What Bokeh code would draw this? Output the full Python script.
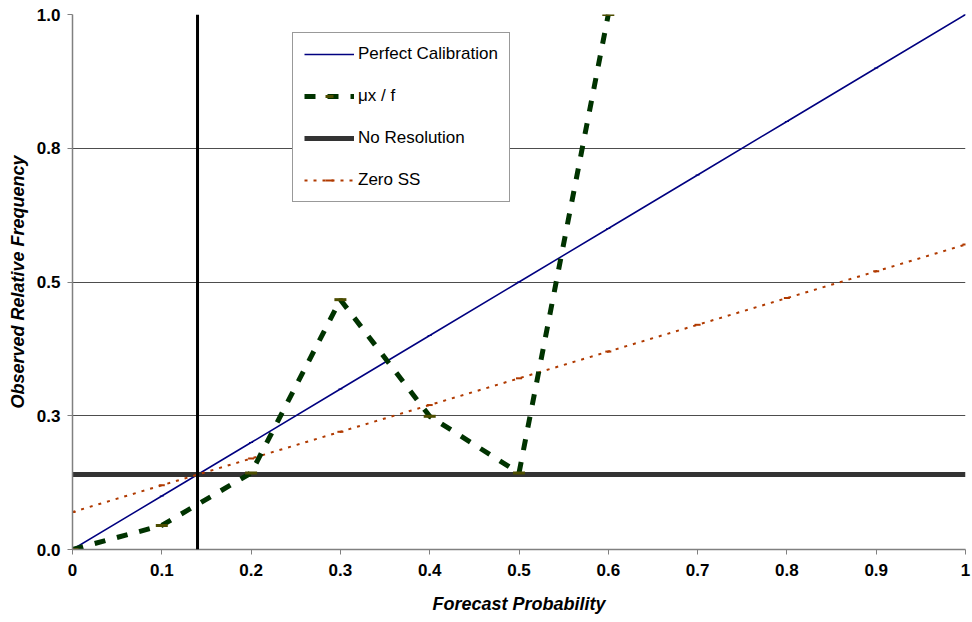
from bokeh.plotting import figure
from bokeh.models import (Legend, LegendItem, FixedTicker, Range1d, Span)
from bokeh.embed import file_html
from bokeh.resources import INLINE

# Forecast probability bins
forecast = [0.0, 0.1, 0.2, 0.3, 0.4, 0.5, 0.6, 0.7, 0.8, 0.9, 1.0]
# Conditional observed frequency (mu x / f), defined up to 0.6
mu_forecast = [0.0, 0.1, 0.2, 0.3, 0.4, 0.5, 0.6]
mu_values = [0.0, 0.045, 0.143, 0.467, 0.249, 0.143, 1.0]
# Climatological base rate
base_rate = 0.14
# Reference lines
perfect = list(forecast)
no_resolution = [base_rate] * len(forecast)
zero_ss = [(f + base_rate) / 2 for f in forecast]

x_ticks = [0.0, 0.1, 0.2, 0.3, 0.4, 0.5, 0.6, 0.7, 0.8, 0.9, 1.0]
x_labels = ["0", "0.1", "0.2", "0.3", "0.4", "0.5", "0.6", "0.7", "0.8", "0.9", "1"]
y_ticks = [0.0, 0.25, 0.5, 0.75, 1.0]
y_labels = ["0.0", "0.3", "0.5", "0.8", "1.0"]

FONT = "Liberation Sans"

p = figure(width=972, height=622, output_backend="svg", toolbar_location=None,
           x_range=Range1d(0, 1), y_range=Range1d(0, 1),
           min_border_left=72, min_border_right=7, min_border_top=14,
           min_border_bottom=73)
p.outline_line_color = None
p.background_fill_color = "white"
p.border_fill_color = "white"

# grid
p.xgrid.grid_line_color = None
p.ygrid.grid_line_color = "#4d4d4d"
p.ygrid.grid_line_width = 1
p.ygrid.ticker = FixedTicker(ticks=y_ticks)

# axes
p.xaxis.ticker = FixedTicker(ticks=x_ticks)
p.xaxis.major_label_overrides = {t: l for t, l in zip(x_ticks, x_labels)}
p.yaxis.ticker = FixedTicker(ticks=y_ticks)
p.yaxis.major_label_overrides = {t: l for t, l in zip(y_ticks, y_labels)}
for ax in (p.xaxis, p.yaxis):
    ax.axis_line_color = "#808080"
    ax.axis_line_width = 1.5
    ax.major_tick_line_color = "#808080"
    ax.major_tick_out = 5
    ax.major_tick_in = 0
    ax.minor_tick_line_color = None
    ax.major_label_text_font = FONT
    ax.major_label_text_font_style = "bold"
    ax.major_label_text_font_size = "17px"
    ax.major_label_text_color = "black"
    ax.axis_label_text_font = FONT
    ax.axis_label_text_font_style = "bold italic"
    ax.axis_label_text_font_size = "18px"
    ax.axis_label_text_color = "black"
p.xaxis.axis_label = "Forecast Probability"
p.yaxis.axis_label = "Observed Relative Frequency"
p.xaxis.major_label_standoff = 9
p.yaxis.major_label_standoff = 7
p.xaxis.axis_label_standoff = 15
p.yaxis.axis_label_standoff = 6

# base-rate forecast (vertical)
p.add_layout(Span(location=base_rate, dimension="height", line_color="black",
                  line_width=3))

# perfect calibration
r_pc = p.line(forecast, perfect, line_color="#000080", line_width=1.5)
r_pcm = p.scatter(forecast, perfect, marker="dash", size=4, line_color="#000080",
                  line_width=1)

# no resolution
r_nr = p.line(forecast, no_resolution, line_color="#333333", line_width=5)

# zero skill score
r_zs = p.line(forecast, zero_ss, line_color="#b03a00", line_width=2,
              line_dash="3 6")
r_zsm = p.scatter(forecast, zero_ss, marker="dash", size=6, line_color="#b03a00",
                  line_width=2)

# mu x / f
r_mu = p.line(mu_forecast, mu_values, line_color="#003300", line_width=5,
              line_dash="11 12")
r_mum = p.scatter(mu_forecast, mu_values, marker="dash", size=12,
                  line_color="#4d4d00", line_width=3)

legend = Legend(items=[
    LegendItem(label="Perfect Calibration", renderers=[r_pc, r_pcm]),
    LegendItem(label="μx / f", renderers=[r_mu, r_mum]),
    LegendItem(label="No Resolution", renderers=[r_nr]),
    LegendItem(label="Zero SS", renderers=[r_zs, r_zsm]),
], location=(220, 347))
legend.label_text_font = FONT
legend.label_text_font_size = "17px"
legend.label_text_color = "black"
legend.label_standoff = 4
legend.glyph_width = 50
legend.glyph_height = 20
legend.label_height = 20
legend.spacing = 22
legend.padding = 11
legend.margin = 0
legend.border_line_color = "#333333"
legend.border_line_width = 1
legend.background_fill_color = "white"
legend.background_fill_alpha = 1
p.add_layout(legend, "center")

open("out.html", "w").write(file_html(p, INLINE))
